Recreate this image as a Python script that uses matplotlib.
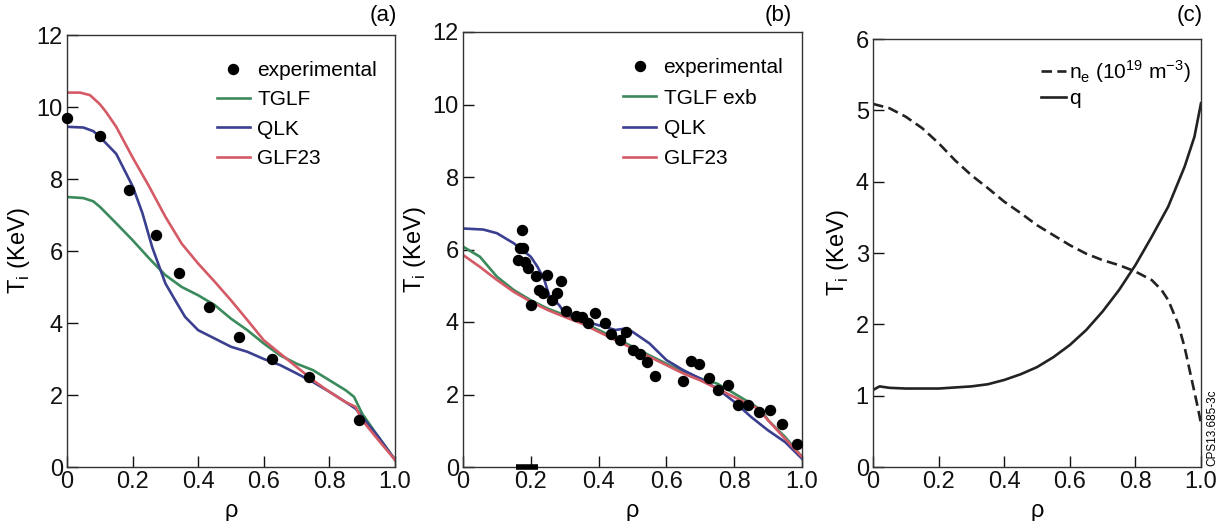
import matplotlib
matplotlib.use("Agg")
import matplotlib.pyplot as plt

plt.rcParams['font.family'] = ['Liberation Sans', 'DejaVu Sans']
plt.rcParams['mathtext.fontset'] = 'custom'
plt.rcParams['mathtext.rm'] = 'Liberation Sans'
NARROW = ['Liberation Sans Narrow', 'Liberation Sans', 'DejaVu Sans']

# ---------------- data: panel (a) ----------------
a_exp_rho = [0.0, 0.10, 0.19, 0.27, 0.34, 0.433, 0.525, 0.625, 0.738, 0.89]
a_exp_ti = [9.7, 9.2, 7.7, 6.45, 5.4, 4.45, 3.6, 3.0, 2.5, 1.3]

a_glf_rho = [0.0, 0.04, 0.07, 0.10, 0.12, 0.15, 0.20, 0.25, 0.30, 0.35, 0.40, 0.45, 0.50,
             0.55, 0.60, 0.65, 0.70, 0.75, 0.80, 0.85, 0.88, 0.90, 0.95, 1.0]
a_glf_ti = [10.4, 10.4, 10.33, 10.08, 9.85, 9.45, 8.6, 7.8, 6.95, 6.2, 5.65, 5.15, 4.63,
            4.08, 3.52, 3.15, 2.78, 2.41, 2.09, 1.8, 1.67, 1.3, 0.74, 0.2]

a_qlk_rho = [0.0, 0.05, 0.08, 0.10, 0.15, 0.20, 0.23, 0.26, 0.30, 0.33, 0.36, 0.40, 0.45,
             0.50, 0.55, 0.60, 0.65, 0.70, 0.75, 0.80, 0.85, 0.88, 0.90, 0.95, 1.0]
a_qlk_ti = [9.45, 9.43, 9.33, 9.17, 8.7, 7.8, 7.05, 6.1, 5.1, 4.63, 4.17, 3.8, 3.57,
            3.34, 3.2, 3.0, 2.83, 2.6, 2.36, 2.09, 1.8, 1.62, 1.39, 0.83, 0.2]

a_tglf_rho = [0.0, 0.05, 0.08, 0.10, 0.15, 0.20, 0.25, 0.30, 0.35, 0.40, 0.45, 0.50, 0.55,
              0.60, 0.65, 0.70, 0.75, 0.80, 0.85, 0.875, 0.90, 0.95, 1.0]
a_tglf_ti = [7.5, 7.47, 7.38, 7.23, 6.77, 6.3, 5.8, 5.33, 5.0, 4.77, 4.5, 4.12, 3.8,
             3.43, 3.1, 2.87, 2.69, 2.41, 2.13, 1.95, 1.48, 0.83, 0.2]

# ---------------- data: panel (b) ----------------
b_exp_rho = [0.173, 0.167, 0.177, 0.163, 0.182, 0.192, 0.214, 0.249, 0.224, 0.236, 0.200,
             0.290, 0.276, 0.262, 0.303, 0.333, 0.352, 0.390, 0.369, 0.420, 0.437, 0.463,
             0.480, 0.502, 0.522, 0.544, 0.566, 0.673, 0.697, 0.650, 0.726, 0.753, 0.781,
             0.810, 0.842, 0.872, 0.906, 0.941, 0.985]
b_exp_ti = [6.54, 6.03, 6.03, 5.71, 5.66, 5.48, 5.27, 5.29, 4.88, 4.79, 4.48,
            5.13, 4.79, 4.62, 4.31, 4.16, 4.13, 4.25, 3.96, 3.96, 3.68, 3.50,
            3.73, 3.22, 3.11, 2.90, 2.51, 2.92, 2.85, 2.38, 2.46, 2.12, 2.26,
            1.70, 1.72, 1.52, 1.57, 1.18, 0.64]

b_qlk_rho = [0.0, 0.06, 0.10, 0.15, 0.20, 0.22, 0.24, 0.255, 0.27, 0.285, 0.30, 0.35, 0.40,
             0.45, 0.48, 0.50, 0.55, 0.60, 0.65, 0.70, 0.75, 0.80, 0.85, 0.90, 0.95, 1.0]
b_qlk_ti = [6.58, 6.55, 6.45, 6.17, 5.8, 5.52, 5.16, 4.7, 4.6, 4.45, 4.24, 4.05, 3.91,
            3.78, 3.82, 3.73, 3.41, 2.95, 2.67, 2.44, 2.16, 1.8, 1.38, 1.01, 0.69, 0.23]

b_tglf_rho = [0.0, 0.05, 0.10, 0.15, 0.20, 0.25, 0.30, 0.35, 0.40, 0.45, 0.50, 0.55, 0.60,
              0.65, 0.70, 0.75, 0.80, 0.85, 0.88, 0.90, 0.95, 1.0]
b_tglf_ti = [6.08, 5.8, 5.25, 4.88, 4.6, 4.37, 4.19, 4.0, 3.78, 3.55, 3.32, 3.08, 2.85,
             2.62, 2.44, 2.3, 2.03, 1.75, 1.57, 1.29, 0.83, 0.28]

b_glf_rho = [0.0, 0.05, 0.10, 0.15, 0.20, 0.25, 0.30, 0.35, 0.40, 0.45, 0.50, 0.55, 0.60,
             0.65, 0.70, 0.75, 0.80, 0.85, 0.87, 0.90, 0.95, 1.0]
b_glf_ti = [5.85, 5.52, 5.16, 4.83, 4.56, 4.33, 4.14, 3.96, 3.73, 3.5, 3.27, 3.04, 2.81,
            2.58, 2.39, 2.16, 1.93, 1.7, 1.61, 1.29, 0.78, 0.28]

b_bar_rho = [0.155, 0.22]
b_bar_val = [0.0, 0.0]

# ---------------- data: panel (c) ----------------
c_ne_rho = [0.0, 0.05, 0.10, 0.15, 0.20, 0.25, 0.30, 0.35, 0.40, 0.45, 0.50, 0.55, 0.60,
            0.65, 0.70, 0.75, 0.80, 0.85, 0.88, 0.90, 0.93, 0.95, 0.97, 0.99, 1.0]
c_ne = [5.09, 5.03, 4.91, 4.75, 4.54, 4.3, 4.09, 3.91, 3.72, 3.56, 3.39, 3.25, 3.11,
        2.99, 2.9, 2.83, 2.74, 2.62, 2.48, 2.34, 2.01, 1.68, 1.26, 0.84, 0.61]

c_q_rho = [0.0, 0.02, 0.05, 0.10, 0.20, 0.30, 0.35, 0.40, 0.45, 0.50, 0.55, 0.60, 0.65,
           0.70, 0.75, 0.80, 0.85, 0.90, 0.95, 0.98, 1.0]
c_q = [1.08, 1.13, 1.11, 1.1, 1.1, 1.13, 1.16, 1.22, 1.3, 1.4, 1.54, 1.71, 1.92,
       2.18, 2.48, 2.83, 3.23, 3.65, 4.21, 4.63, 5.1]

x_ticks = [0, 0.2, 0.4, 0.6, 0.8, 1.0]
x_ticklabels = ['0', '0.2', '0.4', '0.6', '0.8', '1.0']

GREEN = '#3a8a5c'
BLUE = '#3b3f8f'
RED = '#d45a66'
LW = 1.9
MS = 7.2

W, H = 1226, 521
fig = plt.figure(figsize=(W / 100, H / 100), dpi=100)


def px_axes(left, right, top, bottom):
    return fig.add_axes([left / W, 1 - bottom / H, (right - left) / W, (bottom - top) / H])


ax_a = px_axes(67, 395, 35, 467)
ax_b = px_axes(463, 802, 32, 467)
ax_c = px_axes(873, 1201, 39, 467)


def style(ax, ymax, yticks):
    ax.set_xlim(0, 1.0)
    ax.set_ylim(0, ymax)
    ax.set_xticks(x_ticks)
    ax.set_xticklabels(x_ticklabels)
    ax.set_yticks(yticks)
    ax.set_yticklabels([str(t) for t in yticks])
    ax.tick_params(direction='in', length=8, width=1.0, pad=3, labelsize=17, colors='#111111')
    for s in ax.spines.values():
        s.set_color('#333333')
        s.set_linewidth(1.0)
    ax.set_xlabel('ρ', fontsize=17, labelpad=5)
    ax.set_ylabel(r'T$_\mathregular{i}$ (KeV)', fontsize=17, labelpad=3)


LEG = dict(frameon=False, prop={'family': NARROW, 'size': 15}, handletextpad=0.35,
           borderpad=0, borderaxespad=0)

# panel (a)
ax_a.plot(a_tglf_rho, a_tglf_ti, color=GREEN, lw=LW, label='TGLF')
ax_a.plot(a_qlk_rho, a_qlk_ti, color=BLUE, lw=LW, label='QLK')
ax_a.plot(a_glf_rho, a_glf_ti, color=RED, lw=LW, label='GLF23')
ax_a.plot(a_exp_rho, a_exp_ti, 'o', color='black', ms=MS, ls='none', label='experimental',
          clip_on=False, zorder=5)
style(ax_a, 12, [0, 2, 4, 6, 8, 10, 12])
h, l = ax_a.get_legend_handles_labels()
order = [3, 0, 1, 2]
ax_a.legend([h[i] for i in order], [l[i] for i in order], loc='upper right',
            bbox_to_anchor=(0.945, 0.94), handlelength=1.6, labelspacing=0.5, **LEG)

# panel (b)
ax_b.plot(b_tglf_rho, b_tglf_ti, color=GREEN, lw=LW, label='TGLF exb')
ax_b.plot(b_qlk_rho, b_qlk_ti, color=BLUE, lw=LW, label='QLK')
ax_b.plot(b_glf_rho, b_glf_ti, color=RED, lw=LW, label='GLF23')
ax_b.plot(b_exp_rho, b_exp_ti, 'o', color='black', ms=MS, ls='none', label='experimental',
          zorder=5)
ax_b.plot(b_bar_rho, b_bar_val, color='black', lw=4, solid_capstyle='butt', clip_on=False,
          zorder=6)
style(ax_b, 12, [0, 2, 4, 6, 8, 10, 12])
h, l = ax_b.get_legend_handles_labels()
ax_b.legend([h[i] for i in order], [l[i] for i in order], loc='upper right',
            bbox_to_anchor=(0.945, 0.94), handlelength=1.6, labelspacing=0.55, **LEG)

# panel (c)
ax_c.plot(c_ne_rho, c_ne, color='#222222', lw=LW, ls=(0, (4, 2)),
          label=r'n$_\mathregular{e}$ (10$^\mathregular{19}$ m$^\mathregular{-3}$)')
ax_c.plot(c_q_rho, c_q, color='#222222', lw=LW, label='q')
style(ax_c, 6, [0, 1, 2, 3, 4, 5, 6])
ax_c.legend(loc='upper right', bbox_to_anchor=(0.97, 0.955), handlelength=1.2,
            labelspacing=0.2, **{**LEG, 'handletextpad': 0.15})

# panel tags
for txt, xp in [('(a)', 383), ('(b)', 778), ('(c)', 1190)]:
    fig.text(xp / W, 1 - 15 / H, txt, fontsize=16, family=NARROW, ha='center', va='center')

fig.text(1212 / W, 1 - 466 / H, 'CPS13.685-3c', rotation=90, fontsize=8.5, family=NARROW,
         ha='center', va='bottom')

fig.savefig('out.png', dpi=100, facecolor='white')
